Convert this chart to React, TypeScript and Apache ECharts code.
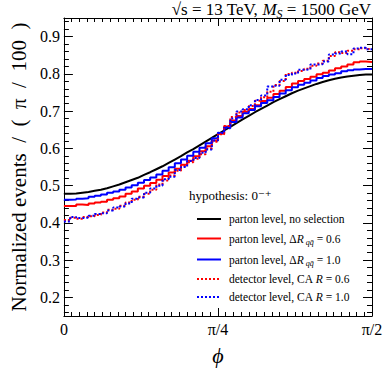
import React, { useEffect, useRef } from "react";
import * as echarts from "echarts";

// x: bin edges in units of π/100 (0 … 50 = π/2)
const xTickLabels: Record<number, string> = { 0: "0", 25: "π/4", 50: "π/2" };
const yRange = [0.15, 0.95];

// parton level, no selection (smooth curve, values at bin edges 0..50)
const partonNoSel = [
  0.478, 0.478, 0.479, 0.481, 0.483, 0.486, 0.489, 0.493, 0.498, 0.503,
  0.509, 0.515, 0.521, 0.529, 0.536, 0.544, 0.552, 0.561, 0.570, 0.579,
  0.589, 0.598, 0.608, 0.618, 0.628, 0.638, 0.648, 0.658, 0.668, 0.678,
  0.687, 0.697, 0.706, 0.715, 0.724, 0.732, 0.740, 0.748, 0.755, 0.761,
  0.767, 0.773, 0.778, 0.783, 0.787, 0.790, 0.793, 0.795, 0.797, 0.798,
  0.798,
];
// parton level, ΔR = 0.6 (50 bins)
const partonR06 = [
  0.445, 0.445, 0.449, 0.448, 0.452, 0.455, 0.457, 0.462, 0.466, 0.471,
  0.478, 0.484, 0.492, 0.500, 0.507, 0.516, 0.526, 0.535, 0.545, 0.556,
  0.567, 0.579, 0.592, 0.606, 0.621, 0.639, 0.659, 0.675, 0.687, 0.698,
  0.706, 0.716, 0.727, 0.736, 0.746, 0.755, 0.765, 0.774, 0.781, 0.786,
  0.792, 0.799, 0.803, 0.809, 0.815, 0.820, 0.825, 0.831, 0.833, 0.832,
];
// parton level, ΔR = 1.0
const partonR10 = [
  0.462, 0.463, 0.465, 0.466, 0.470, 0.473, 0.476, 0.481, 0.484, 0.489,
  0.495, 0.501, 0.508, 0.515, 0.522, 0.530, 0.540, 0.549, 0.560, 0.570,
  0.580, 0.591, 0.602, 0.614, 0.627, 0.641, 0.657, 0.671, 0.683, 0.694,
  0.703, 0.713, 0.722, 0.729, 0.738, 0.747, 0.756, 0.764, 0.771, 0.776,
  0.782, 0.789, 0.794, 0.798, 0.802, 0.807, 0.810, 0.812, 0.813, 0.813,
];
// detector level, CA R = 0.6
const detR06 = [
  0.408, 0.414, 0.411, 0.416, 0.418, 0.421, 0.428, 0.435, 0.438, 0.446,
  0.455, 0.462, 0.470, 0.478, 0.489, 0.503, 0.514, 0.527, 0.540, 0.553,
  0.563, 0.572, 0.584, 0.600, 0.618, 0.638, 0.660, 0.684, 0.696, 0.703,
  0.714, 0.728, 0.737, 0.752, 0.770, 0.781, 0.800, 0.803, 0.808, 0.814,
  0.822, 0.828, 0.835, 0.848, 0.858, 0.856, 0.862, 0.866, 0.869, 0.867,
];
// detector level, CA R = 1.0
const detR10 = [
  0.404, 0.416, 0.413, 0.414, 0.419, 0.424, 0.426, 0.433, 0.441, 0.444,
  0.452, 0.465, 0.468, 0.481, 0.492, 0.500, 0.517, 0.524, 0.542, 0.550,
  0.566, 0.574, 0.588, 0.597, 0.621, 0.642, 0.654, 0.680, 0.699, 0.705,
  0.716, 0.730, 0.742, 0.766, 0.768, 0.784, 0.797, 0.801, 0.811, 0.812,
  0.825, 0.826, 0.833, 0.852, 0.855, 0.860, 0.853, 0.868, 0.870, 0.866,
];

const names = [
  "parton level, no selection",
  "parton level, ΔR = 0.6",
  "parton level, ΔR = 1.0",
  "detector level, CA R = 0.6",
  "detector level, CA R = 1.0",
];
const legendRich: Record<string, string> = {
  [names[0]]: "{n|parton level, no selection}",
  [names[1]]: "{n|parton level, Δ}{i|R}{sub| qq\u0304}{n| = 0.6}",
  [names[2]]: "{n|parton level, Δ}{i|R}{sub| qq\u0304}{n| = 1.0}",
  [names[3]]: "{n|detector level, CA }{i|R}{n| = 0.6}",
  [names[4]]: "{n|detector level, CA }{i|R}{n| = 1.0}",
};

const FONT = "'Liberation Serif', 'DejaVu Serif', serif";

function hist(vals: number[]) {
  const pts = vals.map((v, i) => [i, v]);
  pts.push([vals.length, vals[vals.length - 1]]);
  return pts;
}

export default function App() {
  const ref = useRef<HTMLDivElement>(null);
  useEffect(() => {
    const chart = echarts.init(ref.current!, null, { renderer: "svg" });
    const xBase = {
      type: "value" as const,
      min: 0,
      max: 50,
      interval: 25,
      splitLine: { show: false },
      axisLine: { show: true, onZero: false, lineStyle: { color: "#000", width: 1 } },
      axisTick: { show: true, inside: true, length: 8, lineStyle: { color: "#000", width: 1 } },
      minorTick: { show: true, splitNumber: 20, length: 4, lineStyle: { color: "#000", width: 1 } },
    };
    const yBase = {
      type: "value" as const,
      min: yRange[0],
      max: yRange[1],
      splitNumber: 8,
      splitLine: { show: false },
      axisLine: { show: true, onZero: false, lineStyle: { color: "#000", width: 1 } },
      axisTick: { show: true, inside: true, length: 9, lineStyle: { color: "#000", width: 1 } },
      minorTick: { show: true, splitNumber: 5, length: 5, lineStyle: { color: "#000", width: 1 } },
    };
    const line = (name: string, data: number[][], color: string, dotted: boolean, step: boolean) => ({
      type: "line",
      name,
      data,
      step: step ? "end" : false,
      smooth: false,
      symbol: "none",
      color,
      lineStyle: { color, width: 2, type: dotted ? [2, 2] : "solid" },
      itemStyle: { color },
      z: dotted ? 3 : 2,
    });
    chart.setOption({
      animation: false,
      grid: { left: 59, right: 20, top: 18, bottom: 57 },
      xAxis: [
        {
          ...xBase,
          position: "bottom",
          axisLabel: {
            color: "#000",
            fontFamily: FONT,
            fontSize: 16,
            margin: 5,
            formatter: (v: number) => xTickLabels[v] ?? "",
          },
          name: "ϕ",
          nameLocation: "middle",
          nameGap: 28,
          nameTextStyle: { fontFamily: FONT, fontSize: 22, fontStyle: "italic", color: "#000" },
        },
        { ...xBase, position: "top", axisLabel: { show: false } },
      ],
      yAxis: [
        {
          ...yBase,
          position: "left",
          axisLabel: {
            color: "#000",
            fontFamily: FONT,
            fontSize: 16,
            margin: 4,
            showMinLabel: false,
            showMaxLabel: false,
            formatter: (v: number) => v.toFixed(1),
          },
          name: "Normalized events  /  (  π  /  100  )",
          nameLocation: "middle",
          nameRotate: 90,
          nameGap: 34,
          nameTextStyle: { fontFamily: FONT, fontSize: 21, color: "#000" },
        },
        { ...yBase, position: "right", axisLabel: { show: false } },
      ],
      legend: {
        orient: "vertical",
        left: 191,
        top: 208,
        itemWidth: 24,
        itemHeight: 14,
        itemGap: 6,
        selectedMode: false,
        data: names,
        itemStyle: { opacity: 0 },
        formatter: (name: string) => legendRich[name],
        textStyle: {
          color: "#000",
          fontFamily: FONT,
          fontSize: 11.5,
          padding: [0, 0, 0, 3],
          rich: {
            n: { fontFamily: FONT, fontSize: 11.5, color: "#000", lineHeight: 14 },
            i: { fontFamily: FONT, fontSize: 11.5, fontStyle: "italic", color: "#000", lineHeight: 14 },
            sub: { fontFamily: FONT, fontSize: 8, fontStyle: "italic", color: "#000", padding: [7, 0, 0, 0], lineHeight: 14 },
          },
        },
      },
      graphic: [
        {
          type: "text",
          right: 21,
          top: -1,
          style: {
            text: "{n|√s = 13 TeV, }{i|M}{sub|S}{n| = 1500 GeV}",
            fill: "#000",
            font: `17px ${FONT}`,
            rich: {
              n: { fontFamily: FONT, fontSize: 17, fill: "#000", color: "#000", lineHeight: 20 },
              i: { fontFamily: FONT, fontSize: 17, fontStyle: "italic", fill: "#000", color: "#000", lineHeight: 20 },
              sub: { fontFamily: FONT, fontSize: 12, fontStyle: "italic", fill: "#000", color: "#000", padding: [9, 0, 0, 0], lineHeight: 20 },
            },
          },
        },
        {
          type: "text",
          left: 189,
          top: 189,
          style: { text: "hypothesis: 0⁻⁺", font: `13px ${FONT}`, fill: "#000" },
        },
      ],
      series: [
        { ...line(names[0], partonNoSel.map((v, i) => [i, v]), "#000000", false, false) },
        line(names[1], hist(partonR06), "#ff0000", false, true),
        line(names[2], hist(partonR10), "#0000ff", false, true),
        line(names[3], hist(detR06), "#ff0000", true, true),
        line(names[4], hist(detR10), "#0000ff", true, true),
      ],
    });
    return () => chart.dispose();
  }, []);
  return (
    <div
      ref={ref}
      style={{ position: "absolute", left: 0, top: 0, width: 392, height: 373, background: "#fff" }}
    />
  );
}
